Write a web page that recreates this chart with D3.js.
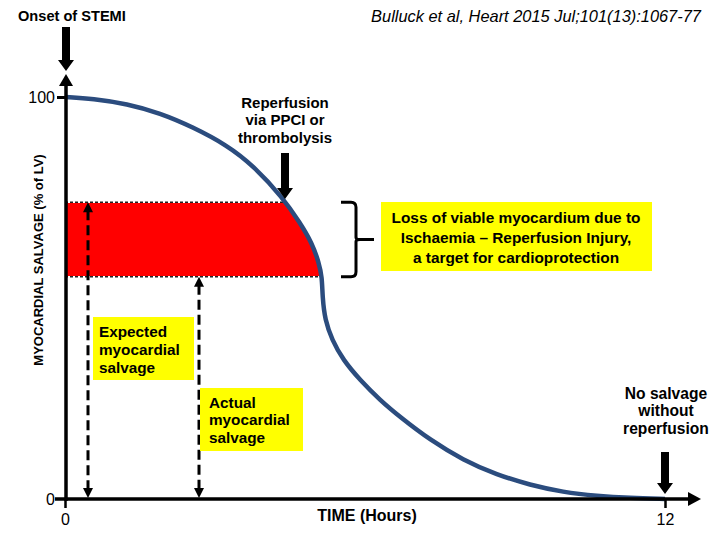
<!DOCTYPE html>
<html>
<head>
<meta charset="utf-8">
<script src="https://cdn.jsdelivr.net/npm/d3@7"></script>
<style>
  body { margin: 0; background: #fff; }
  text { font-family: "Liberation Sans", Arial, sans-serif; fill: #000; }
</style>
</head>
<body>
<svg id="chart" width="720" height="540"></svg>
<script>
// curve: time (hours) vs myocardial salvage (% of LV)
const curveHours   = [0, 0.56, 1.24, 1.9, 2.56, 3.24, 3.76, 4.36, 4.7, 4.94, 5.08, 5.14, 5.15, 5.2, 5.34, 5.56, 5.9, 6.3, 6.7, 7.3, 7.96, 8.64, 9.3, 9.96, 10.64, 11.3, 12];
const curveSalvage = [100, 99.6, 98.3, 96, 92.5, 88, 83, 74.9, 68.7, 63.7, 58.7, 55.2, 50.2, 44.5, 39.6, 34.6, 29.6, 24.6, 20.4, 14.7, 9.7, 6, 3.5, 1.7, 0.75, 0.25, 0];

// band lost to ischaemia-reperfusion injury
const injuryBand = [55.3, 73.8];
const expectedHour = 0.46;
const actualHour = 2.68;
const reperfusionHour = 4.4;
const noSalvageHour = 12;

const xTicks = [0, 12];
const yTicks = [0, 100];

const svg = d3.select('#chart');

const x = d3.scaleLinear().domain([0, 12]).range([65, 665]);
const y = d3.scaleLinear().domain([0, 100]).range([499, 97]);

const points = curveHours.map((h, i) => ({ h: h, v: curveSalvage[i] }));

const line = d3.line()
    .x(d => x(d.h))
    .y(d => y(d.v))
    .curve(d3.curveBasis);

// red band: region under the curve clipped to the injury band
svg.append('clipPath').attr('id', 'band')
    .append('rect')
    .attr('x', x(0))
    .attr('y', y(injuryBand[1]))
    .attr('width', x(12) - x(0))
    .attr('height', y(injuryBand[0]) - y(injuryBand[1]));

svg.append('path')
    .attr('d', line(points) + `L${x(12)},${y(0)}L${x(0)},${y(0)}Z`)
    .attr('clip-path', 'url(#band)')
    .attr('fill', '#ff0000');

// thin dashed edges of the band
const edgeHour = lvl => {
    for (let i = 1; i < points.length; i++) {
        if (points[i].v <= lvl) {
            const a = points[i - 1], b = points[i];
            return a.h + (a.v - lvl) / (a.v - b.v) * (b.h - a.h);
        }
    }
    return 12;
};
injuryBand.forEach(lvl => {
    svg.append('line')
        .attr('x1', x(0)).attr('x2', x(edgeHour(lvl)))
        .attr('y1', y(lvl)).attr('y2', y(lvl))
        .attr('stroke', '#fff').attr('stroke-width', 1.5);
    svg.append('line')
        .attr('x1', x(0)).attr('x2', x(edgeHour(lvl)))
        .attr('y1', y(lvl)).attr('y2', y(lvl))
        .attr('stroke', '#222').attr('stroke-width', 1.5)
        .attr('stroke-dasharray', '3,2');
});

// the salvage curve
svg.append('path')
    .attr('d', line(points))
    .attr('fill', 'none')
    .attr('stroke', '#2b4c7e')
    .attr('stroke-width', 4.5);

// axes
const yAxis = d3.axisLeft(y).tickValues(yTicks).tickSize(9).tickSizeOuter(0).tickPadding(2);
const gy = svg.append('g').attr('transform', `translate(${x(0) + 1},0)`).call(yAxis);
gy.select('.domain').remove();
gy.selectAll('line').attr('stroke', '#000').attr('stroke-width', 3);
gy.selectAll('text').style('font-size', '16px').style('font-family', '"Liberation Sans", Arial, sans-serif');
gy.selectAll('.tick').filter(d => d === 0).select('line').remove();

const xAxis = d3.axisBottom(x).tickValues(xTicks).tickSize(9).tickSizeOuter(0).tickPadding(6);
const gx = svg.append('g').attr('transform', `translate(0,${y(0)})`).call(xAxis);
gx.select('.domain').remove();
gx.selectAll('line').attr('stroke', '#000').attr('stroke-width', 2.5);
gx.selectAll('text').style('font-size', '16px').style('font-family', '"Liberation Sans", Arial, sans-serif');

// axis lines with arrow heads
svg.append('line')
    .attr('x1', x(0) + 1).attr('x2', x(0) + 1)
    .attr('y1', y(0) + 2).attr('y2', 84)
    .attr('stroke', '#000').attr('stroke-width', 3.5);
svg.append('path')
    .attr('d', `M${x(0) + 1},74 L${x(0) - 6},86 L${x(0) + 8},86 Z`)
    .attr('fill', '#000');

svg.append('line')
    .attr('x1', 55).attr('x2', 690)
    .attr('y1', y(0)).attr('y2', y(0))
    .attr('stroke', '#000').attr('stroke-width', 3.5);
svg.append('path')
    .attr('d', `M701,${y(0)} L688,${y(0) - 7} L688,${y(0) + 7} Z`)
    .attr('fill', '#000');

// thick block arrows pointing down
function blockArrow(cx, top, tip) {
    const shaft = 4, head = 8, headLen = 11;
    svg.append('path')
        .attr('d', `M${cx - shaft},${top} H${cx + shaft} V${tip - headLen} H${cx + head} L${cx},${tip} L${cx - head},${tip - headLen} H${cx - shaft} Z`)
        .attr('fill', '#000');
}
blockArrow(x(0) + 1, 27, 71);
blockArrow(x(reperfusionHour), 153, 199);
blockArrow(x(noSalvageHour), 452, 494);

// dashed double arrows
function dashedArrow(cx, yTop, yBot) {
    svg.append('line')
        .attr('x1', cx).attr('x2', cx)
        .attr('y1', yTop + 8).attr('y2', yBot - 8)
        .attr('stroke', '#000').attr('stroke-width', 3)
        .attr('stroke-dasharray', '10,5');
    svg.append('path')
        .attr('d', `M${cx},${yTop} L${cx - 5},${yTop + 10} L${cx + 5},${yTop + 10} Z`)
        .attr('fill', '#000');
    svg.append('path')
        .attr('d', `M${cx},${yBot} L${cx - 5},${yBot - 10} L${cx + 5},${yBot - 10} Z`)
        .attr('fill', '#000');
}
dashedArrow(x(expectedHour), y(injuryBand[1]), y(0) - 1);
dashedArrow(x(actualHour), y(injuryBand[0]), y(0) - 1);

// bracket
const bt = y(injuryBand[1]), bb = y(injuryBand[0]), bm = (bt + bb) / 2;
svg.append('path')
    .attr('d', `M341,${bt} H351 Q356,${bt} 356,${bt + 5} V${bm - 2} Q356,${bm} 360,${bm} H374 M360,${bm} Q356,${bm} 356,${bm + 2} V${bb - 5} Q356,${bb} 351,${bb} H341`)
    .attr('fill', 'none')
    .attr('stroke', '#000')
    .attr('stroke-width', 3);

// yellow label boxes
function box(x0, y0, w, h) {
    svg.append('rect')
        .attr('x', x0).attr('y', y0).attr('width', w).attr('height', h)
        .attr('fill', '#ffff00');
}
function lines(arr, x0, y0, dy, anchor, weight, size) {
    const t = svg.append('text')
        .attr('text-anchor', anchor)
        .style('font-size', size + 'px')
        .style('font-weight', weight);
    arr.forEach((s, i) => {
        t.append('tspan')
            .attr('x', x0)
            .attr('y', y0 + i * dy)
            .attr('dominant-baseline', 'central')
            .text(s);
    });
}

box(381, 202, 271, 69);
lines(['Loss of viable myocardium due to', 'Ischaemia \u2013 Reperfusion Injury,', 'a target for cardioprotection'],
      516, 217, 20, 'middle', 'bold', 15.4);

box(93, 317, 101, 63);
lines(['Expected', 'myocardial', 'salvage'], 99, 331, 18, 'start', 'bold', 15.3);

box(200, 388, 103, 63);
lines(['Actual', 'myocardial', 'salvage'], 209, 402, 17.5, 'start', 'bold', 15.3);

lines(['Reperfusion', 'via PPCI or', 'thrombolysis'], 285, 102, 17.5, 'middle', 'bold', 15);
lines(['No salvage', 'without', 'reperfusion'], 666, 393, 17.5, 'middle', 'bold', 15.6);

lines(['Onset of STEMI'], 18, 16, 0, 'start', 'bold', 14.6);

svg.append('text')
    .attr('x', 536).attr('y', 16)
    .attr('text-anchor', 'middle')
    .attr('dominant-baseline', 'central')
    .style('font-size', '16.4px')
    .style('font-style', 'italic')
    .text('Bulluck et al, Heart 2015 Jul;101(13):1067-77');

svg.append('text')
    .attr('x', 367).attr('y', 515)
    .attr('text-anchor', 'middle')
    .attr('dominant-baseline', 'central')
    .style('font-size', '16px')
    .style('font-weight', 'bold')
    .text('TIME (Hours)');

svg.append('text')
    .attr('transform', 'translate(38,260) rotate(-90)')
    .attr('text-anchor', 'middle')
    .attr('dominant-baseline', 'central')
    .style('font-size', '13px')
    .style('font-weight', 'bold')
    .text('MYOCARDIAL SALVAGE (% of LV)');
</script>
</body>
</html>
